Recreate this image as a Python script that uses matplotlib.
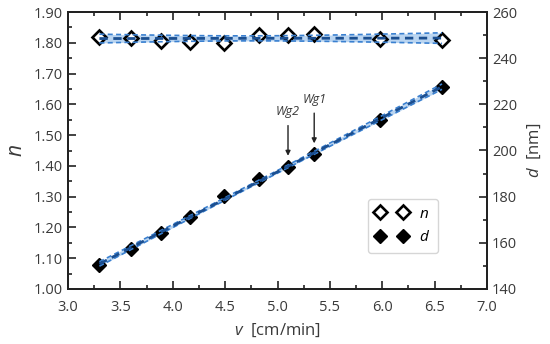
import numpy as np
import matplotlib
matplotlib.use("Agg")
import matplotlib.pyplot as plt
from matplotlib.ticker import MultipleLocator, FormatStrFormatter

plt.rcParams['font.family'] = ['Open Sans', 'DejaVu Sans']
plt.rcParams['mathtext.fontset'] = 'custom'
plt.rcParams['mathtext.it'] = 'Open Sans:italic'
plt.rcParams['mathtext.rm'] = 'Open Sans'

# pulling speed (cm/min)
v = np.array([3.30, 3.60, 3.89, 4.16, 4.49, 4.82, 5.10, 5.35, 5.98, 6.57])
# refractive index (left axis)
n = np.array([1.820, 1.816, 1.807, 1.804, 1.798, 1.826, 1.826, 1.829, 1.811, 1.808])
# thickness in nm (right axis)
d = np.array([150.5, 157.2, 164.4, 171.2, 180.3, 187.5, 193.0, 198.4, 213.2, 227.7])

labels_wg = ["Wg1", "Wg2"]
v_wg = [5.35, 5.10]

band_col = "#a9cbee"
edge_col = "#3a80d0"
mid_col = "#1b4f91"


def fit_band(x, y, xs, t=2.306):
    # linear fit with 95% confidence band
    p = np.polyfit(x, y, 1)
    yfit = np.polyval(p, xs)
    res = y - np.polyval(p, x)
    s = np.sqrt(np.sum(res**2) / (len(x) - 2))
    sxx = np.sum((x - x.mean())**2)
    hw = t * s * np.sqrt(1/len(x) + (xs - x.mean())**2 / sxx)
    return yfit, hw


def draw_band(ax, x, y):
    xs = np.linspace(x.min(), x.max(), 100)
    yfit, hw = fit_band(x, y, xs)
    ax.fill_between(xs, yfit - hw, yfit + hw, color=band_col, alpha=0.8,
                    lw=0, zorder=1)
    for yy in (yfit + hw, yfit - hw):
        ax.plot(xs, yy, color=edge_col, lw=1.2, dashes=(3, 2), zorder=3)
    ax.plot(xs, yfit, color=mid_col, lw=2.0, dashes=(3, 2), zorder=3)


fig = plt.figure(figsize=(5.5, 3.44), dpi=100)
ax = fig.add_axes([0.1236, 0.160, 0.762, 0.805])
ax2 = ax.twinx()

draw_band(ax, v, n)
h1, = ax.plot(v, n, 'D', ms=7, mfc='white', mec='black', mew=1.9,
              zorder=2, label='$\\mathit{n}$')

draw_band(ax2, v, d)
h2, = ax2.plot(v, d, 'D', ms=7, mfc='black', mec='black', mew=1.0,
               zorder=2, label='$\\mathit{d}$')

ax.set_xlim(3.0, 7.0)
ax.set_ylim(1.0, 1.9)
ax2.set_ylim(140, 260)

ax.xaxis.set_major_locator(MultipleLocator(0.5))
ax.xaxis.set_minor_locator(MultipleLocator(0.25))
ax.xaxis.set_major_formatter(FormatStrFormatter('%.1f'))
ax.yaxis.set_major_locator(MultipleLocator(0.1))
ax.yaxis.set_minor_locator(MultipleLocator(0.05))
ax.yaxis.set_major_formatter(FormatStrFormatter('%.2f'))
ax2.yaxis.set_major_locator(MultipleLocator(20))
ax2.yaxis.set_minor_locator(MultipleLocator(10))

txt_col = '#3a3a3a'
for a in (ax, ax2):
    a.tick_params(which='both', direction='in', labelsize=10.5,
                  labelcolor=txt_col, width=1.2, color='#222222')
    a.tick_params(which='major', length=6)
    a.tick_params(which='minor', length=3)
    for s in a.spines.values():
        s.set_linewidth(1.4)
        s.set_color('#222222')
ax.tick_params(which='both', top=True, right=False)
ax.tick_params(axis='x', pad=8)
ax2.tick_params(which='both', top=False)

ax.set_xlabel('$\\mathit{v}$  [cm/min]', fontsize=12, color=txt_col, labelpad=5)
ax.set_ylabel('$\\mathit{n}$', fontsize=15, color=txt_col, labelpad=5)
ax2.set_ylabel('$\\mathit{d}$  [nm]', fontsize=12, color=txt_col, labelpad=6)

# waveguide annotations
for lab, xv in zip(labels_wg, v_wg):
    yv = np.interp(xv, v, d)
    ax2.annotate('', xy=(xv, yv + 3.5), xytext=(xv, yv + 19),
                 arrowprops=dict(arrowstyle='-|>', color='#222222', lw=1.0,
                                 mutation_scale=7))
    ax2.text(xv, yv + 21, lab, style='italic', fontsize=9, color=txt_col,
             ha='center', va='bottom')

leg = ax2.legend(handles=[h1, h2], numpoints=2, loc='upper left',
                 bbox_to_anchor=(0.716, 0.325), borderaxespad=0,
                 fontsize=11, frameon=True, fancybox=True, handlelength=2.1,
                 handletextpad=0.75, borderpad=0.5, labelspacing=0.55)
leg.get_frame().set_edgecolor('#cccccc')
leg.get_frame().set_linewidth(1.0)

fig.savefig('out.png', dpi=100)
